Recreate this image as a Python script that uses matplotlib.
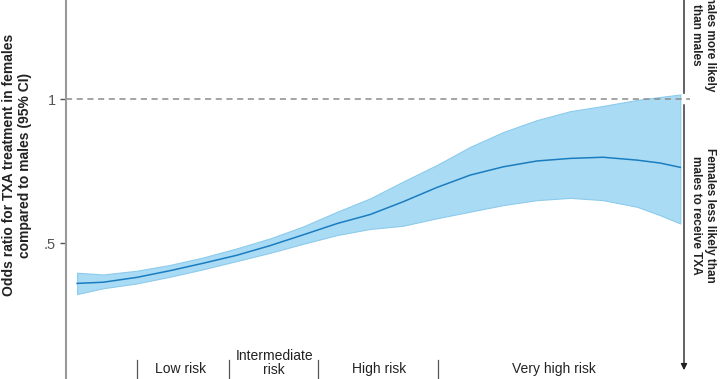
import matplotlib
matplotlib.use("Agg")
import matplotlib.pyplot as plt

plt.rcParams['font.family'] = ['Liberation Sans', 'DejaVu Sans']

# risk score (arbitrary 0-100 scale) and odds ratio estimates
score = [1.8, 6.0, 11.5, 16.8, 22.2, 27.7, 33.0, 38.3, 43.9, 49.2,
         54.5, 60.0, 65.4, 70.8, 76.2, 81.6, 86.9, 92.4, 96.1, 99.4]
odds_ratio = [0.360, 0.364, 0.381, 0.404, 0.430, 0.458, 0.491, 0.528, 0.568, 0.599,
              0.643, 0.693, 0.736, 0.765, 0.785, 0.794, 0.798, 0.788, 0.778, 0.763]
ci_upper = [0.397, 0.391, 0.404, 0.424, 0.450, 0.482, 0.516, 0.557, 0.609, 0.655,
            0.713, 0.771, 0.834, 0.886, 0.927, 0.958, 0.976, 0.997, 1.007, 1.016]
ci_lower = [0.323, 0.343, 0.360, 0.383, 0.409, 0.438, 0.466, 0.497, 0.528, 0.549,
            0.560, 0.586, 0.609, 0.632, 0.649, 0.657, 0.649, 0.626, 0.597, 0.568]

# risk groups along the x axis
group_edges = [11.5, 26.4, 40.8, 60.2]
group_centres = [18.6, 33.7, 50.6, 79.0]
group_labels = ['Low risk', 'Intermediate\nrisk', 'High risk', 'Very high risk']

fig = plt.figure(figsize=(7.24, 3.79), dpi=100)
ax = fig.add_axes([66 / 724, 0, 618 / 724, 1])

ax.fill_between(score, ci_lower, ci_upper, color='#a9dbf5', edgecolor='#8ccbec', linewidth=0.8)
ax.plot(score, odds_ratio, color='#1b7dbf', linewidth=1.1)
ax.plot([0, 101], [1, 1], color='#8c8c8c', linestyle=(0, (4, 3)), linewidth=1.1, clip_on=False)

ax.set_xlim(0, 100)
ax.set_ylim(0.028, 1.344)
ax.set_xticks([])
ax.set_yticks([0.5, 1])
ax.set_yticklabels(['.5', '1'])
ax.tick_params(axis='y', colors='#555555', labelsize=10.5, length=4, width=1)
for s in ['top', 'right', 'bottom']:
    ax.spines[s].set_visible(False)
ax.spines['left'].set_color('#999999')
ax.spines['left'].set_linewidth(1.5)

# risk group separators and labels
for e in group_edges:
    ax.plot([e, e], [0.028, 0.094], color='#555555', linewidth=0.9, clip_on=False)
for c, lab in zip(group_centres, group_labels):
    y = 0.083 if '\n' in lab else 0.0625
    ax.text(c, y, lab, ha='center', va='center', fontsize=10, color='#222222', linespacing=1.05)

# arrows on the right
ax.annotate('', xy=(1.0, 0.049), xycoords=('axes fraction', 'data'),
            xytext=(1.0, 0.99), textcoords=('axes fraction', 'data'),
            arrowprops=dict(arrowstyle='-|>', color='#222222', lw=1, mutation_scale=9))
ax.annotate('', xy=(1.0, 1.40), xycoords=('axes fraction', 'data'),
            xytext=(1.0, 1.01), textcoords=('axes fraction', 'data'),
            arrowprops=dict(arrowstyle='-|>', color='#222222', lw=1, mutation_scale=9),
            annotation_clip=False)

fig.text(703 / 724, 1 - 215 / 379, 'Females less likely than\nmales to receive TXA',
         rotation=-90, ha='center', va='center', fontsize=8.5, fontweight='bold', color='#222222')
fig.text(703 / 724, 1 - 35 / 379, 'Females more likely\nthan males',
         rotation=-90, ha='center', va='center', fontsize=8.5, fontweight='bold', color='#222222')

fig.text(17 / 724, 1 - 165 / 379, 'Odds ratio for TXA treatment in females\ncompared to males (95% CI)',
         rotation=90, ha='center', va='center', fontsize=10, fontweight='bold', color='#222222')

fig.savefig('out.png', dpi=100)
